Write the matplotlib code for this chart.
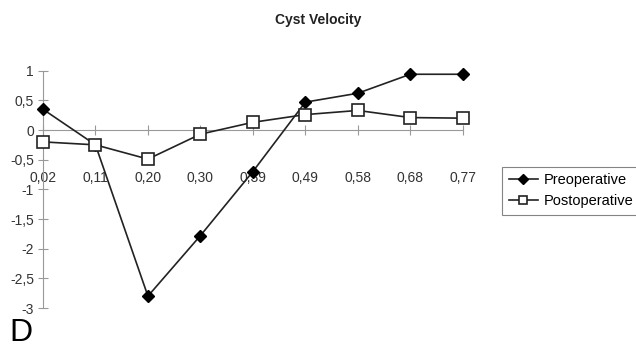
import numpy as np
import matplotlib
matplotlib.use("Agg")
from matplotlib import pyplot as plt

# data
kategori = ["0,02", "0,11", "0,20", "0,30", "0,39", "0,49", "0,58", "0,68", "0,77"]
preop = [0.35, -0.25, -2.8, -1.78, -0.7, 0.47, 0.62, 0.94, 0.94]
postop = [-0.2, -0.25, -0.49, -0.07, 0.13, 0.26, 0.33, 0.21, 0.2]
yticks = [1, 0.5, 0, -0.5, -1, -1.5, -2, -2.5, -3]
ylabels = ["1", "0,5", "0", "-0,5", "-1", "-1,5", "-2", "-2,5", "-3"]

plt.rcParams["font.family"] = ["Liberation Sans", "DejaVu Sans"]

fig = plt.figure(figsize=(6.36, 3.5), dpi=100)
ax = fig.add_axes([0.0676, 0.12, 0.66, 0.678])

x = np.arange(len(kategori))
ax.plot(x, preop, color="#222222", lw=1.2, marker="D", ms=6,
        mfc="black", mec="black", label="Preoperative", zorder=3, clip_on=False)
ax.plot(x, postop, color="#222222", lw=1.2, marker="s", ms=8,
        mfc="white", mec="#222222", mew=1.2, label="Postoperative", zorder=4,
        clip_on=False)

ax.set_xlim(0, len(kategori) - 1)
ax.set_ylim(-3, 1)

# sumbu x di y=0, sumbu y di kiri
for s in ["top", "right"]:
    ax.spines[s].set_visible(False)
ax.spines["bottom"].set_position(("data", 0))
ax.spines["bottom"].set_color("#999999")
ax.spines["left"].set_color("#999999")

ax.set_xticks(x)
ax.set_xticklabels(kategori, fontsize=10, color="#333333")
ax.tick_params(axis="x", direction="inout", length=7, color="#999999", pad=26)
ax.set_yticks(yticks)
ax.set_yticklabels(ylabels, fontsize=10, color="#333333")
ax.tick_params(axis="y", direction="inout", length=7, color="#999999", pad=3)

fig.text(0.5, 0.943, "Cyst Velocity", ha="center", va="center",
         fontsize=10, fontweight="bold", color="#222222")
fig.text(0.015, 0.005, "D", ha="left", va="bottom", fontsize=23, color="black")

leg = ax.legend(loc="center left", bbox_to_anchor=(0.778, 0.455),
                bbox_transform=fig.transFigure, fontsize=10.5, frameon=True,
                fancybox=False, edgecolor="#666666", handlelength=2.0,
                borderpad=0.45, labelspacing=0.45, handletextpad=0.4,
                markerscale=0.8)
leg.get_frame().set_linewidth(0.8)

plt.savefig("out.png", dpi=100)
